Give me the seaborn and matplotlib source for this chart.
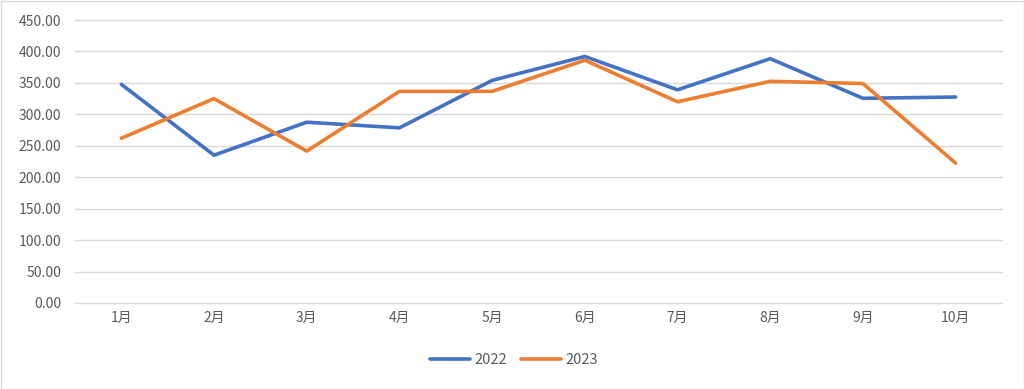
import matplotlib
matplotlib.use("Agg")
import matplotlib.pyplot as plt
import seaborn as sns
import pandas as pd
from matplotlib.patches import Rectangle

months = ["1月", "2月", "3月", "4月", "5月", "6月", "7月", "8月", "9月", "10月"]
y2022 = [347.7, 235.0, 287.5, 278.5, 354.0, 392.0, 339.0, 388.5, 325.5, 327.5]
y2023 = [262.0, 325.0, 241.5, 336.5, 336.5, 386.0, 320.0, 352.5, 349.0, 222.5]
series = ["2022", "2023"]
yticks = [0, 50, 100, 150, 200, 250, 300, 350, 400, 450]

df = pd.DataFrame({
    "month": months * 2,
    "value": y2022 + y2023,
    "year": [series[0]] * len(months) + [series[1]] * len(months),
})

sns.set_theme(style="white")
plt.rcParams["font.family"] = ["Noto Sans CJK SC", "DejaVu Sans"]

fig = plt.figure(figsize=(10.24, 3.89), dpi=100)
ax = fig.add_axes([75 / 1024, 1 - 303 / 389, (1002 - 75) / 1024, (303 - 20) / 389])

sns.lineplot(data=df, x="month", y="value", hue="year", sort=False,
             palette=["#4472C4", "#ED7D31"], linewidth=2.6, ax=ax,
             legend=True)

ax.set_xlim(-0.5, len(months) - 0.5)
ax.set_ylim(0, 450)
ax.set_yticks(yticks)
ax.set_yticklabels([f"{v:.2f}" for v in yticks])
ax.yaxis.grid(True, color="#D9D9D9", linewidth=1)
for gl in ax.get_ygridlines():
    gl.set_clip_on(False)
ax.xaxis.grid(False)
for s in ax.spines.values():
    s.set_visible(False)
ax.tick_params(axis="both", length=0, colors="#595959", labelsize=10, pad=6)
ax.tick_params(axis="y", pad=10)
ax.set_xlabel("")
ax.set_ylabel("")
ax.set_axisbelow(True)

handles, labels = ax.get_legend_handles_labels()
ax.legend_.remove()
leg = fig.legend(handles, labels, loc="center", bbox_to_anchor=(514 / 1024, 1 - 360 / 389),
                 ncol=2, frameon=False, fontsize=10.5, handlelength=2.8,
                 columnspacing=0.9, handletextpad=0.3)
for t in leg.get_texts():
    t.set_color("#595959")

fig.patches.append(Rectangle((0.5 / 1024, 0.5 / 389), 1 - 1 / 1024, 1 - 1 / 389,
                             transform=fig.transFigure, fill=False,
                             edgecolor="#D9D9D9", linewidth=1))

fig.savefig("out.png", dpi=100)
